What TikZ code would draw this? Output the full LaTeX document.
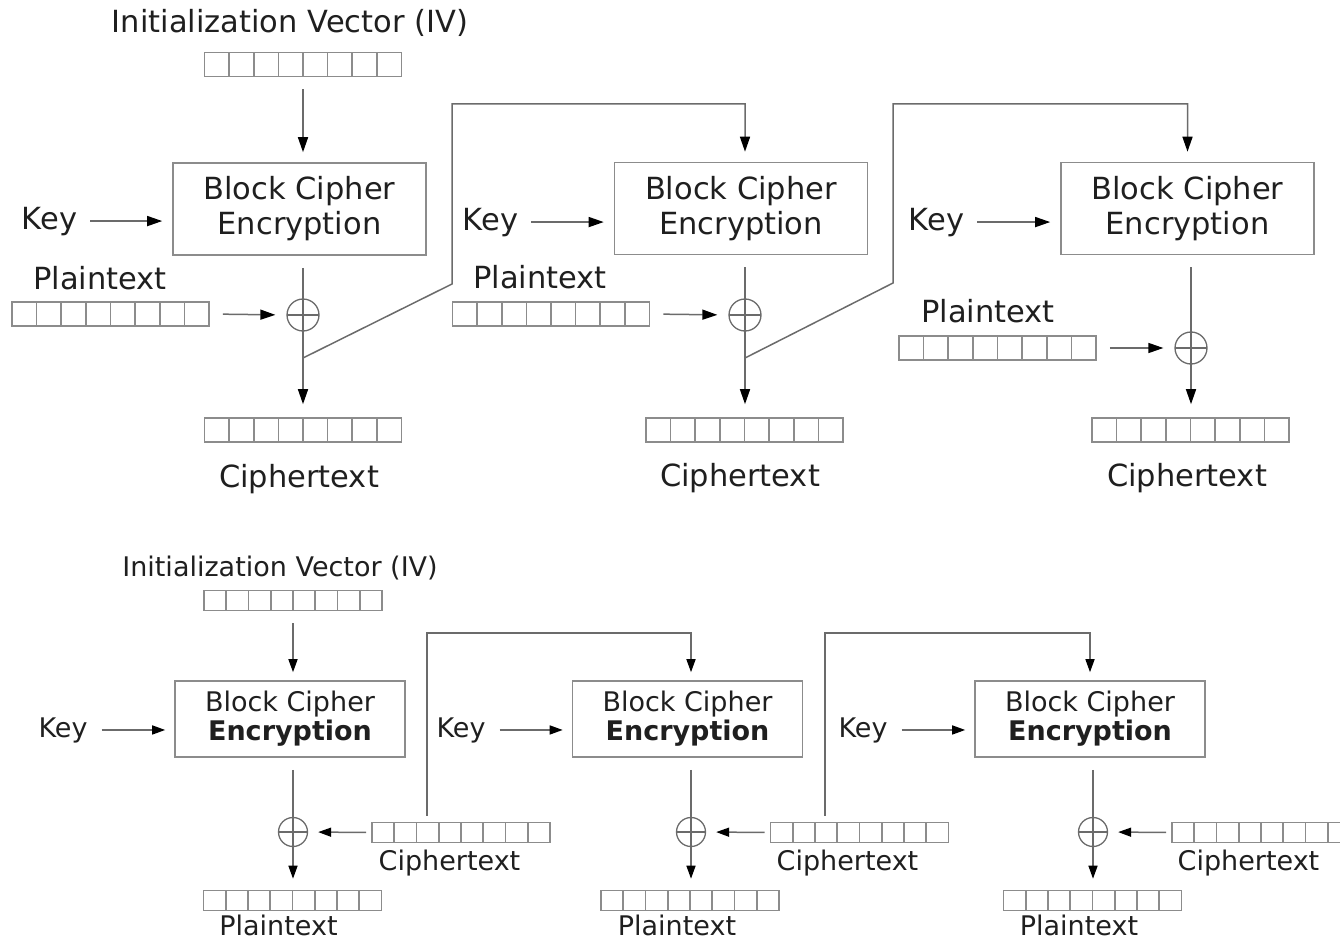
\documentclass[tikz,border=0pt]{standalone}
\usepackage{fontspec}
\setmainfont{DejaVu Sans}
\usepackage{xcolor}
\usetikzlibrary{arrows.meta, positioning, calc}

\definecolor{linegray}{gray}{0.42}
\definecolor{boxgray}{gray}{0.55}
\definecolor{inkgray}{gray}{0.12}

\begin{document}
\begin{tikzpicture}[
    x=1pt, y=-1pt,
    big/.style   = {font=\fontsize{30.5}{35}\selectfont, text=inkgray, inner sep=0pt},
    small/.style = {font=\fontsize{27}{29}\selectfont, text=inkgray, inner sep=0pt},
    cipher/.style = {
        rectangle, draw=boxgray, line width=1.6pt, align=center,
        minimum width=253pt, minimum height=92pt, big
    },
    bcipher/.style = {cipher, minimum width=230pt, minimum height=76pt, small},
    reg/.style = {
        rectangle, draw=boxgray, line width=1.6pt, inner sep=0pt,
        minimum width=197pt, minimum height=24pt,
        path picture={
            \foreach \k in {1,...,7}
                \draw[boxgray, line width=1.6pt]
                    ($(path picture bounding box.south west)!\k/8!(path picture bounding box.south east)$) --
                    ($(path picture bounding box.north west)!\k/8!(path picture bounding box.north east)$);
        }
    },
    breg/.style = {reg, minimum width=178pt, minimum height=20pt},
    xor/.style = {
        circle, draw=linegray, line width=1.3pt, inner sep=0pt, minimum size=32pt,
        path picture={
            \draw[linegray, line width=1.3pt]
                (path picture bounding box.west) -- (path picture bounding box.east)
                (path picture bounding box.north) -- (path picture bounding box.south);
        }
    },
    bxor/.style = {xor, minimum size=29pt},
    wire/.style = {linegray, line width=1.5pt},
    arr/.style  = {wire, -{Triangle[length=15pt, width=10pt, color=black]},
                   shorten <=12pt, shorten >=10pt},
    barr/.style = {arr, -{Triangle[length=13pt, width=9pt, color=black]}}
]
\useasboundingbox (0,0) rectangle (1340,939);

% --- encryption (top) ---
\node[big, anchor=base] (ivlabel) at (290,33) {Initialization Vector (IV)};
\node[reg] (iv) at (303,64.5) {};

\node[cipher] (enc1) at (299.5,209) {Block Cipher\\Encryption};
\node[cipher] (enc2) at (741,208.5) {Block Cipher\\Encryption};
\node[cipher] (enc3) at (1187.5,208.5) {Block Cipher\\Encryption};

\node[big, anchor=base] (key1) at (49.5,229) {Key};
\node[big, anchor=base] (key2) at (490.5,230) {Key};
\node[big, anchor=base] (key3) at (936.5,230) {Key};

\node[big, anchor=base] (pt1label) at (100,289) {Plaintext};
\node[big, anchor=base] (pt2label) at (540,288) {Plaintext};
\node[big, anchor=base] (pt3label) at (988,322) {Plaintext};
\node[reg] (pt1) at (110.5,314) {};
\node[reg] (pt2) at (551,314) {};
\node[reg] (pt3) at (997.5,348) {};

\node[xor] (x1) at (303,315) {};
\node[xor] (x2) at (745,315) {};
\node[xor] (x3) at (1191,348) {};

\node[reg] (ct1) at (303,430) {};
\node[reg] (ct2) at (744.5,430) {};
\node[reg] (ct3) at (1190.5,430) {};
\node[big, anchor=base] (ct1label) at (299,487) {Ciphertext};
\node[big, anchor=base] (ct2label) at (740,486) {Ciphertext};
\node[big, anchor=base] (ct3label) at (1187,486) {Ciphertext};

\coordinate (br1) at (303,358);
\coordinate (kink1) at (452,284);
\coordinate (top1) at (452,104);
\coordinate (br2) at (745,358);
\coordinate (kink2) at (893,283);
\coordinate (top2) at (893,104);

\draw[arr] (iv.south) -- (enc1.north -| iv);
\foreach \i in {1,2,3} {
    \draw[arr, shorten <=13pt] (key\i.east) -- (key\i.east -| enc\i.west);
    \draw[arr, shorten <=13pt, shorten >=11pt] (pt\i.east) -- (x\i.west);
    \draw[arr, shorten >=13pt] (enc\i.south -| x\i) -- (ct\i.north -| x\i);
}
\draw[arr, shorten <=0pt] (br1) -- (kink1) -- (top1) -| (enc2.north -| x2);
\draw[arr, shorten <=0pt] (br2) -- (kink2) -- (top2) -| (enc3.north);

% --- decryption (bottom) ---
\node[small, anchor=base] (ivblabel) at (280,576) {Initialization Vector (IV)};
\node[breg] (ivb) at (293,600.5) {};

\node[bcipher] (dec1) at (290,719) {Block Cipher\\\textbf{Encryption}};
\node[bcipher] (dec2) at (687.5,719) {Block Cipher\\\textbf{Encryption}};
\node[bcipher] (dec3) at (1090,719) {Block Cipher\\\textbf{Encryption}};

\node[small, anchor=base] (keyb1) at (63,737) {Key};
\node[small, anchor=base] (keyb2) at (461,737) {Key};
\node[small, anchor=base] (keyb3) at (863,737) {Key};

\node[bxor] (xb1) at (293,832) {};
\node[bxor] (xb2) at (691,832) {};
\node[bxor] (xb3) at (1093,832) {};

\node[breg] (ctb1) at (461,832.5) {};
\node[breg] (ctb2) at (859.5,832.5) {};
\node[breg] (ctb3) at (1261,832.5) {};
\node[small, anchor=base] (ctb1label) at (449.5,870) {Ciphertext};
\node[small, anchor=base] (ctb2label) at (847.5,870) {Ciphertext};
\node[small, anchor=base] (ctb3label) at (1248.5,870) {Ciphertext};

\node[breg] (ptb1) at (292.5,900.5) {};
\node[breg] (ptb2) at (690,900.5) {};
\node[breg] (ptb3) at (1092.5,900.5) {};
\node[small, anchor=base] (ptb1label) at (278.5,935) {Plaintext};
\node[small, anchor=base] (ptb2label) at (677,935) {Plaintext};
\node[small, anchor=base] (ptb3label) at (1079,935) {Plaintext};

\coordinate (up1) at (427,633);
\coordinate (up2) at (825,633);

\draw[barr, shorten >=8pt] (ivb.south) -- (dec1.north -| ivb);
\foreach \i in {1,2,3} {
    \draw[barr, shorten <=14pt, shorten >=9pt] (keyb\i.east) -- (keyb\i.east -| dec\i.west);
    \draw[barr, shorten <=5pt] (ctb\i.west) -- (xb\i.east);
    \draw[barr, shorten >=11pt] (dec\i.south -| xb\i) -- (ptb\i.north -| xb\i);
}
\draw[barr, shorten <=6pt, shorten >=8pt] (ctb1.north -| up1) -- (up1) -| (dec2.north -| xb2);
\draw[barr, shorten <=6pt, shorten >=8pt] (ctb2.north -| up2) -- (up2) -| (dec3.north);
\end{tikzpicture}
\end{document}
